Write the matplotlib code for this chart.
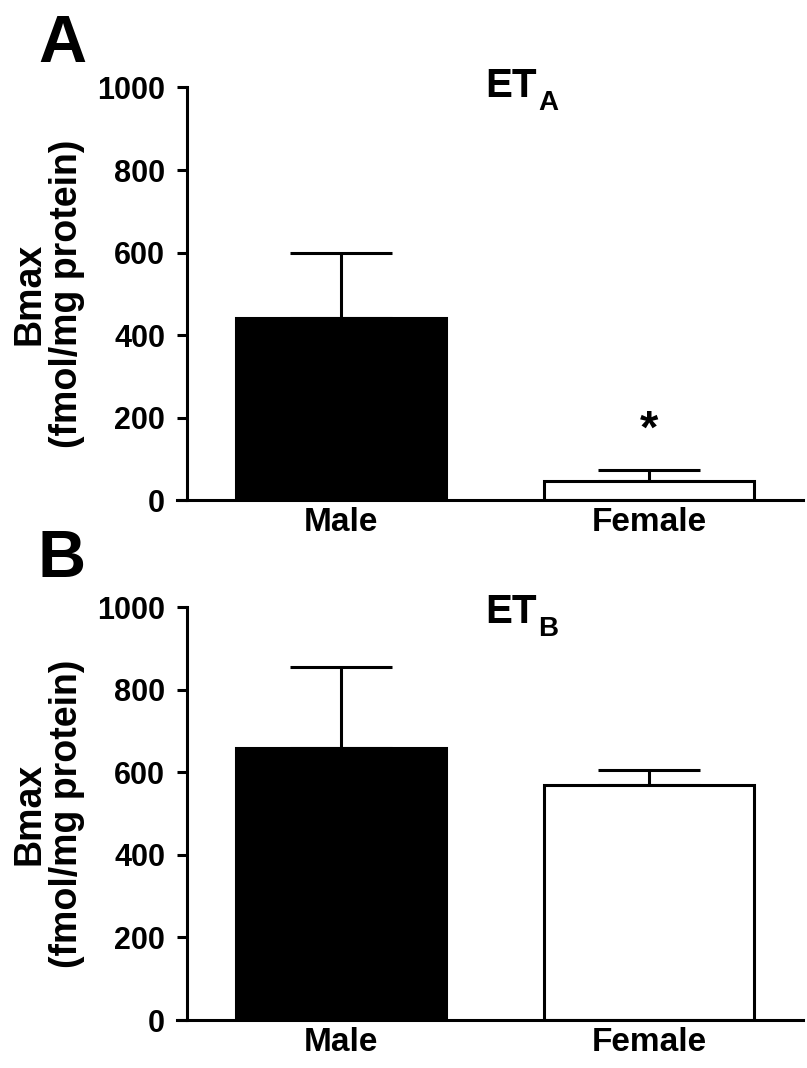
import matplotlib
matplotlib.use('Agg')
import matplotlib.pyplot as plt

plt.rcParams.update({
    'font.family': ['Liberation Sans', 'DejaVu Sans'],
    'font.weight': 'bold',
    'axes.linewidth': 2.2,
})

groups = ['Male', 'Female']
colors = ['black', 'white']

eta_mean = [442, 48]
eta_sem = [158, 25]
etb_mean = [659, 569]
etb_sem = [196, 36]

yticks = [0, 200, 400, 600, 800, 1000]


def draw_panel(ax, means, sems, sub, title_y, stars):
    x = list(range(len(groups)))
    ax.bar(x, means, width=0.681, color=colors, edgecolor='black',
           linewidth=2.2, zorder=2)
    ax.errorbar(x, means, yerr=[[0] * len(means), sems], fmt='none',
                ecolor='black', elinewidth=2.2, capsize=37, capthick=2.2,
                zorder=1)
    for xi, s in zip(x, stars):
        if s:
            ax.text(xi, 168, s, ha='center', va='center',
                    fontsize=34, fontweight='bold')
    ax.set_xlim(-0.499, 1.4976)
    ax.set_ylim(0, 1000)
    ax.set_yticks(yticks)
    ax.set_xticks(x)
    ax.set_xticklabels(groups)
    ax.tick_params(axis='y', length=7.2, width=2.2, labelsize=22, pad=8.5)
    ax.tick_params(axis='x', length=0, labelsize=24, pad=5)
    ax.spines['top'].set_visible(False)
    ax.spines['right'].set_visible(False)
    ax.spines['bottom'].set_bounds(-0.531, 1.4976)
    ax.set_ylabel('Bmax\n(fmol/mg protein)', fontsize=27, fontweight='bold',
                  labelpad=9, linespacing=1.05)
    # title with subscript, drawn as two pieces
    ax.text(0.635, title_y, 'ET', ha='right', va='baseline', fontsize=29,
            fontweight='bold')
    ax.annotate(sub, xy=(0.635, title_y), xytext=(1, -9),
                textcoords='offset points', ha='left', va='baseline',
                fontsize=20, fontweight='bold')


fig = plt.figure(figsize=(8.07, 10.68), dpi=100)
ax_a = fig.add_axes([0.2317, 0.5314, 0.7633, 0.3867])
ax_b = fig.add_axes([0.2317, 0.0449, 0.7633, 0.3867])

draw_panel(ax_a, eta_mean, eta_sem, 'A', 976, ['', '*'])
draw_panel(ax_b, etb_mean, etb_sem, 'B', 961, ['', ''])

fig.text(38 / 807, 1 - 62 / 1068, 'A', ha='left', va='baseline',
         fontsize=48, fontweight='bold')
fig.text(37 / 807, 1 - 577 / 1068, 'B', ha='left', va='baseline',
         fontsize=48, fontweight='bold')

fig.savefig('out.png', dpi=100)
